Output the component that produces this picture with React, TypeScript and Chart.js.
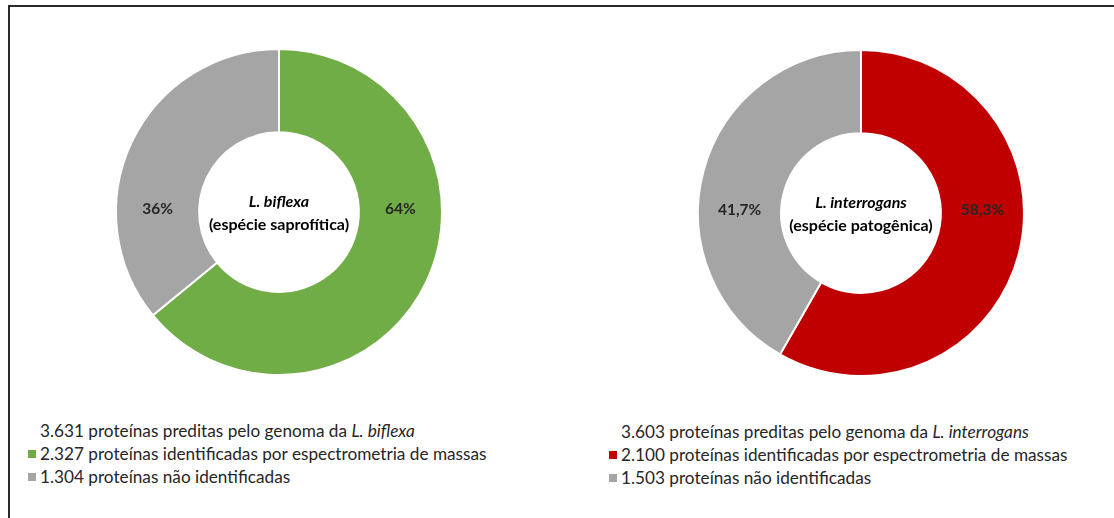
import React, { useEffect, useRef } from "react";
import { Chart, registerables } from "chart.js";

Chart.register(...registerables);

// ---- Data ----
const leftTotalLabel = "3.631 proteínas preditas pelo genoma da ";
const leftSpecies = "L. biflexa";
const leftSubtitle = "(espécie saprofítica)";
const leftCategories = [
  "2.327 proteínas identificadas por espectrometria de massas",
  "1.304 proteínas não identificadas",
];
const leftValues = [2327, 1304];
const leftPctLabels = ["64%", "36%"];

const rightTotalLabel = "3.603 proteínas preditas pelo genoma da ";
const rightSpecies = "L. interrogans";
const rightSubtitle = "(espécie patogênica)";
const rightCategories = [
  "2.100 proteínas identificadas por espectrometria de massas",
  "1.503 proteínas não identificadas",
];
const rightValues = [2100, 1503];
const rightPctLabels = ["58,3%", "41,7%"];

const leftColors = ["#70AD47", "#A5A5A5"];
const rightColors = ["#C00000", "#A5A5A5"];

const FONT = "Lato, 'Open Sans', sans-serif";

const labelPlugin = {
  id: "donutLabels",
  afterDatasetsDraw(chart: any) {
    const opts = chart.options.plugins.donutLabels;
    const meta = chart.getDatasetMeta(0);
    const ctx = chart.ctx;
    ctx.save();
    ctx.textAlign = "center";
    ctx.textBaseline = "middle";
    meta.data.forEach((arc: any, i: number) => {
      const { x, y, innerRadius, outerRadius } = arc.getProps(
        ["x", "y", "innerRadius", "outerRadius"],
        true
      );
      const mid = (innerRadius + outerRadius) / 2;
      const dir = i === 0 ? 1 : -1;
      ctx.fillStyle = "#262626";
      ctx.font = `bold 15.5px ${FONT}`;
      ctx.fillText(opts.labels[i], x + dir * mid, y - 3);
    });
    const a0 = meta.data[0];
    const cx = a0.x;
    const cy = a0.y;
    ctx.fillStyle = "#000000";
    ctx.font = `italic bold 16px ${FONT}`;
    ctx.fillText(opts.species, cx, cy - 10);
    ctx.font = `bold 16px ${FONT}`;
    ctx.fillText(opts.subtitle, cx, cy + 13);
    ctx.restore();
  },
};

function Donut(props: {
  values: number[];
  colors: string[];
  categories: string[];
  labels: string[];
  species: string;
  subtitle: string;
  left: number;
  top: number;
}) {
  const ref = useRef<HTMLCanvasElement>(null);
  useEffect(() => {
    if (!ref.current) return;
    const chart = new Chart(ref.current, {
      type: "doughnut",
      data: {
        labels: props.categories,
        datasets: [
          {
            data: props.values,
            backgroundColor: props.colors,
            borderColor: "#ffffff",
            borderWidth: 2,
            hoverOffset: 0,
          },
        ],
      },
      options: {
        animation: false,
        responsive: false,
        cutout: "49%",
        radius: 163,
        layout: { padding: 0 },
        plugins: {
          legend: { display: false },
          tooltip: { enabled: false },
          donutLabels: {
            labels: props.labels,
            species: props.species,
            subtitle: props.subtitle,
          },
        } as any,
      },
      plugins: [labelPlugin],
    });
    return () => chart.destroy();
  }, []);
  return (
    <canvas
      ref={ref}
      width={400}
      height={360}
      style={{ position: "absolute", left: props.left, top: props.top, width: 400, height: 360 }}
    />
  );
}

function Legend(props: {
  total: string;
  species: string;
  categories: string[];
  colors: string[];
  left: number;
  top: number;
}) {
  const rowStyle: React.CSSProperties = {
    height: 23,
    lineHeight: "23px",
    display: "flex",
    alignItems: "center",
    whiteSpace: "nowrap",
  };
  return (
    <div
      style={{
        position: "absolute",
        left: props.left,
        top: props.top,
        fontFamily: FONT,
        fontSize: 17.2,
        color: "#262626",
      }}
    >
      <div style={rowStyle}>
        <span style={{ display: "inline-block", width: 8, marginRight: 4 }} />
        <span>
          {props.total}
          <i>{props.species}</i>
        </span>
      </div>
      {props.categories.map((c, i) => (
        <div key={i} style={rowStyle}>
          <span
            style={{
              display: "inline-block",
              width: 8,
              height: 8,
              background: props.colors[i],
              marginRight: 4,
            }}
          />
          <span>{c}</span>
        </div>
      ))}
    </div>
  );
}

export default function App() {
  useEffect(() => {
    document.body.style.margin = "0";
  }, []);
  return (
    <div
      style={{
        position: "absolute",
        left: 0,
        top: 0,
        width: 1114,
        height: 518,
        background: "#ffffff",
        overflow: "hidden",
      }}
    >
      <div
        style={{
          position: "absolute",
          left: 8,
          top: 5,
          width: 1114,
          height: 520,
          borderTop: "2px solid #2a2a2a",
          borderLeft: "2px solid #2a2a2a",
        }}
      />
      <Donut
        values={leftValues}
        colors={leftColors}
        categories={leftCategories}
        labels={leftPctLabels}
        species={leftSpecies}
        subtitle={leftSubtitle}
        left={79}
        top={32}
      />
      <Donut
        values={rightValues}
        colors={rightColors}
        categories={rightCategories}
        labels={rightPctLabels}
        species={rightSpecies}
        subtitle={rightSubtitle}
        left={661}
        top={33}
      />
      <Legend
        total={leftTotalLabel}
        species={leftSpecies}
        categories={leftCategories}
        colors={leftColors}
        left={28}
        top={419}
      />
      <Legend
        total={rightTotalLabel}
        species={rightSpecies}
        categories={rightCategories}
        colors={rightColors}
        left={609}
        top={420}
      />
    </div>
  );
}
